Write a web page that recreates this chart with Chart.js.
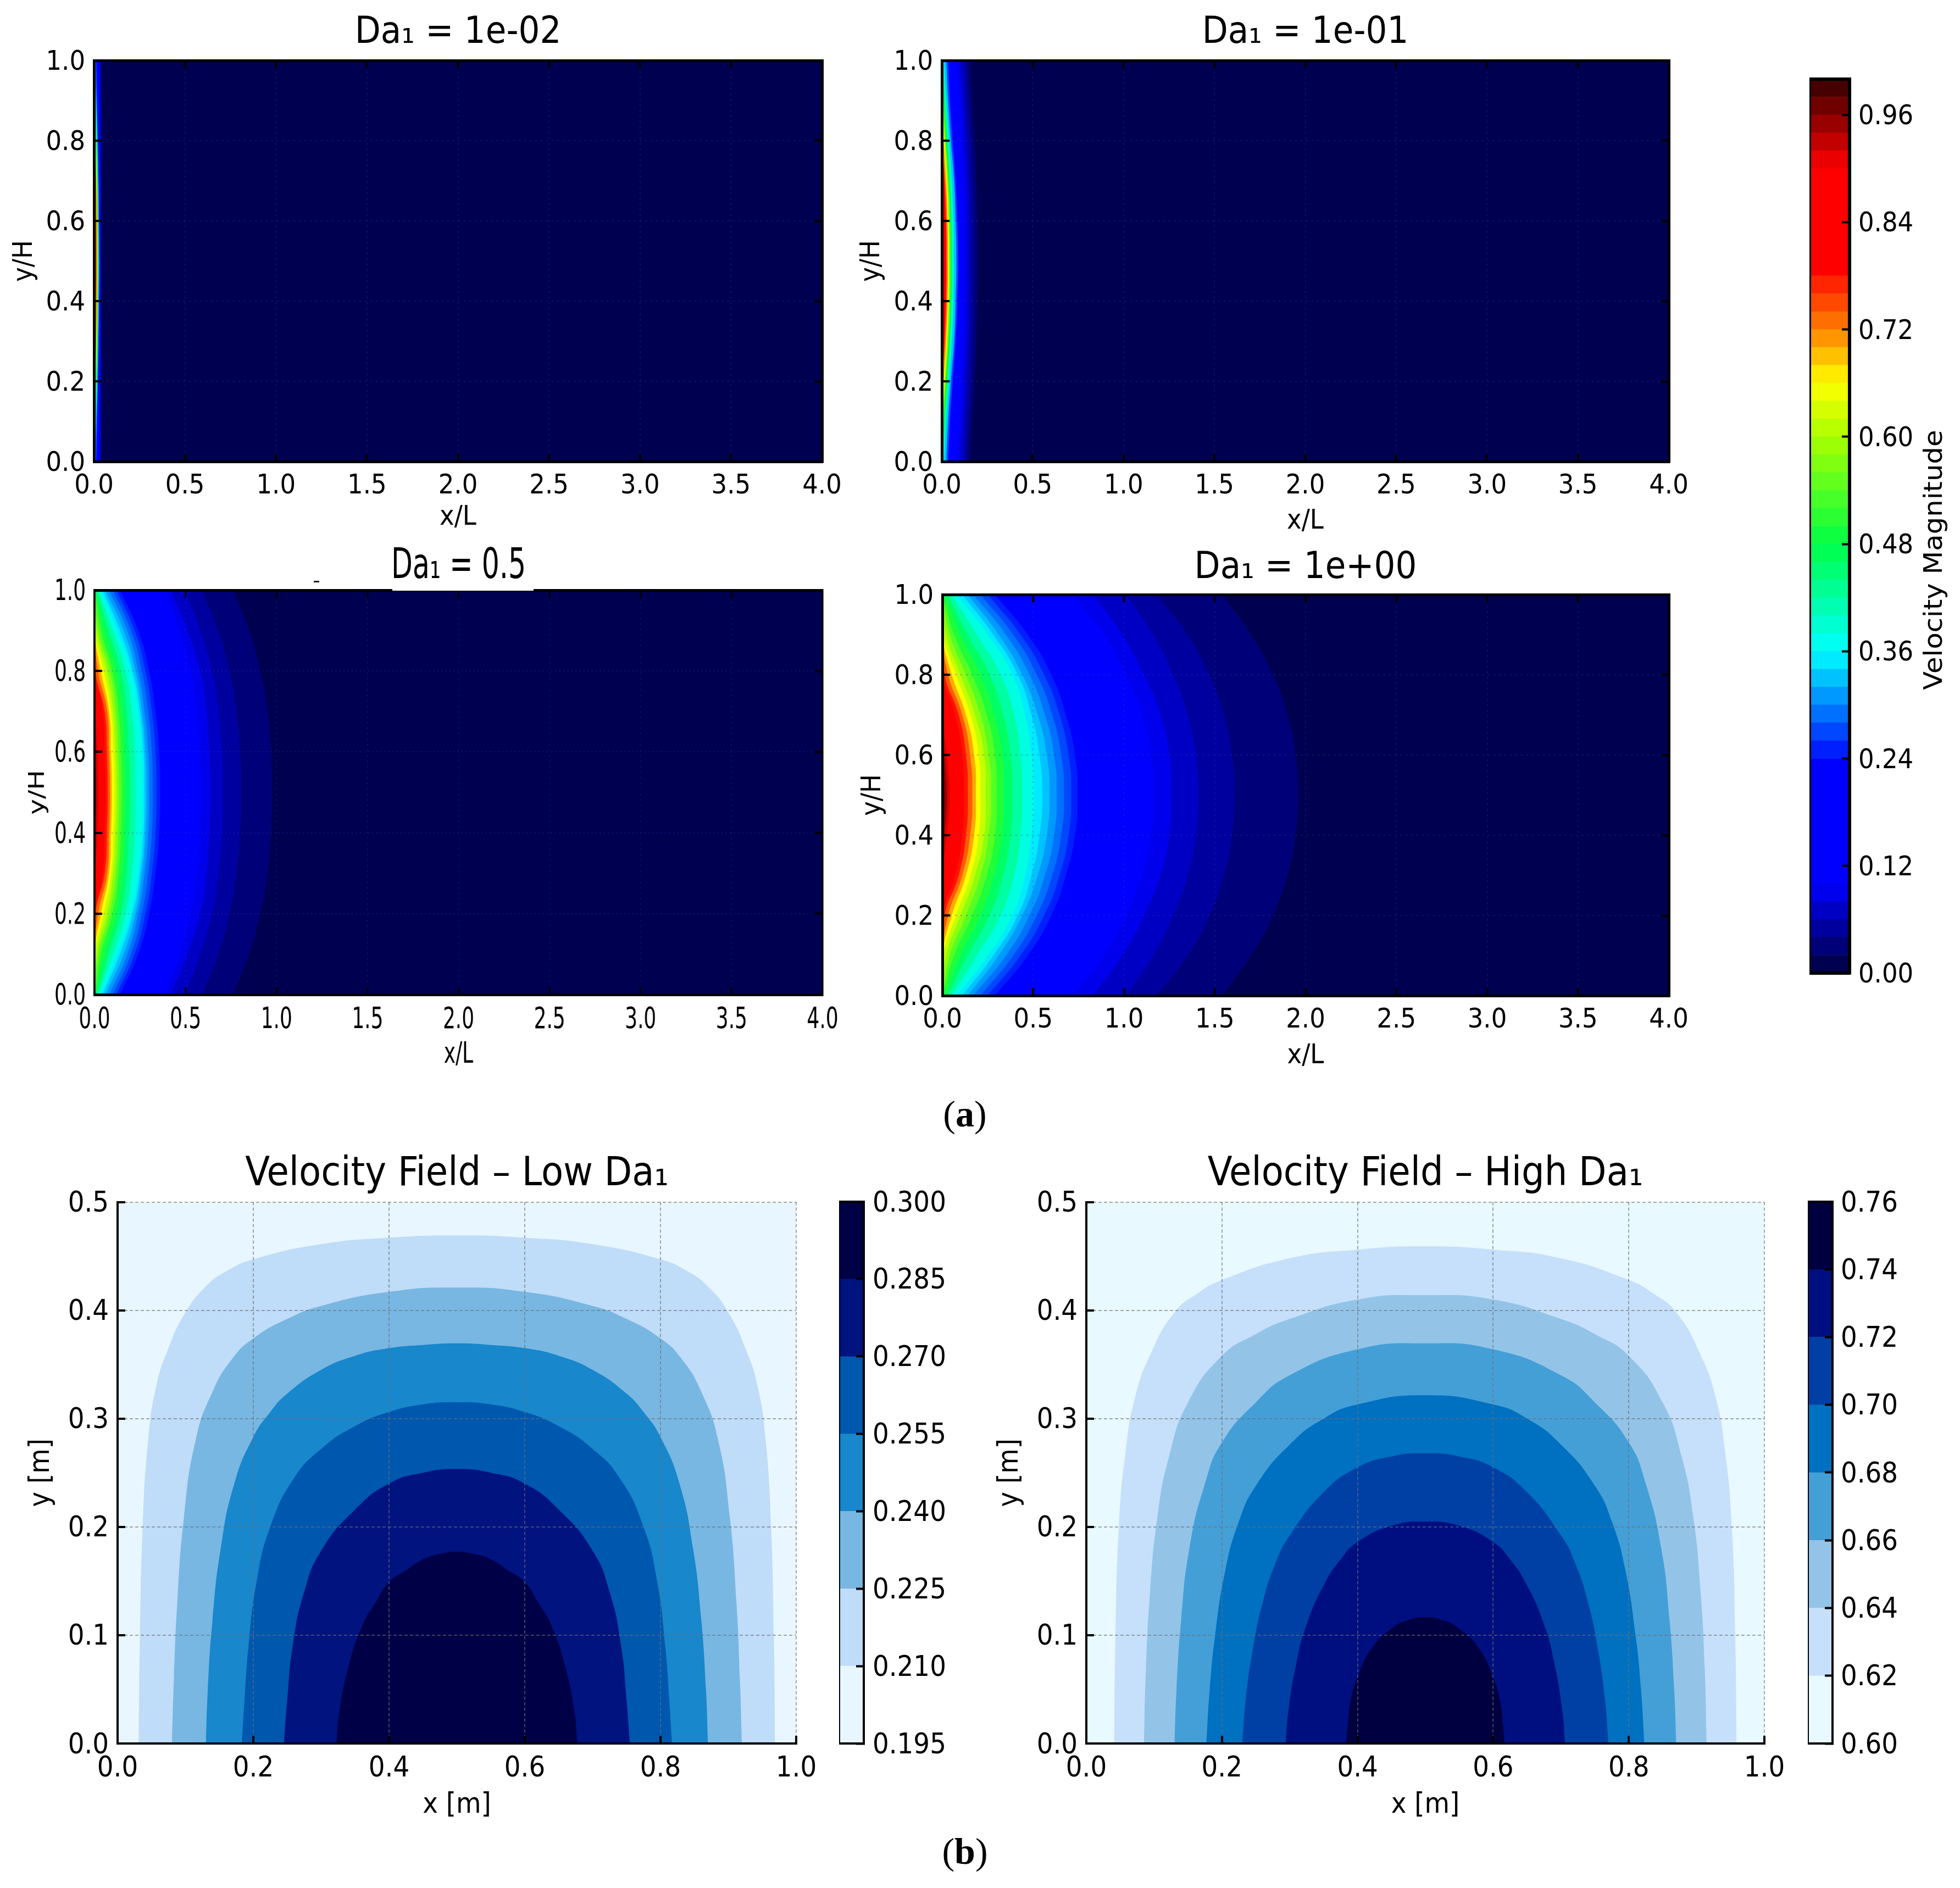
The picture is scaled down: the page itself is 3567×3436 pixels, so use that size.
<!DOCTYPE html>
<html>
<head>
<meta charset="utf-8">
<title>Velocity fields</title>
<script src="https://cdn.jsdelivr.net/npm/chart.js@4"></script>
<style>
  html, body { margin: 0; padding: 0; background: #fff; }
  body { position: relative; width: 3567px; height: 3436px; overflow: hidden; }
  canvas { position: absolute; }
  .tag { position: absolute; font: 68px "Liberation Serif", serif; color: #000; transform: translate(-50%, -50%); }
  .patch { position: absolute; z-index: 5; }
</style>
</head>
<body>
<div class="patch" style="left:714px;top:1066px;width:257px;height:9px;background:#fff"></div>
<div class="patch" style="left:571px;top:1057px;width:10px;height:3px;background:#222"></div>
<div class="tag" style="left:1756px;top:2027px">(<b>a</b>)</div>
<div class="tag" style="left:1756px;top:3369px">(<b>b</b>)</div>
<script>
// tick labels
const channelXTicks = [0, 0.5, 1, 1.5, 2, 2.5, 3, 3.5, 4];
const channelYTicks = [0, 0.2, 0.4, 0.6, 0.8, 1];
const sectionXTicks = [0, 0.2, 0.4, 0.6, 0.8, 1];
const sectionYTicks = [0, 0.1, 0.2, 0.3, 0.4, 0.5];
const magnitudeTicks = [0, 0.12, 0.24, 0.36, 0.48, 0.6, 0.72, 0.84, 0.96];
const lowDaTicks = [0.195, 0.21, 0.225, 0.24, 0.255, 0.27, 0.285, 0.3];
const highDaTicks = [0.6, 0.62, 0.64, 0.66, 0.68, 0.7, 0.72, 0.74, 0.76];

// colorbar band edges for the magnitude scale
const magnitudeEdges = [0, 0.02, 0.04, 0.06, 0.08, 0.1, 0.12, 0.14, 0.16, 0.18, 0.2, 0.22, 0.24, 0.26, 0.28, 0.3, 0.32, 0.34, 0.36, 0.38, 0.4, 0.42, 0.44, 0.46, 0.48, 0.5, 0.52, 0.54, 0.56, 0.58, 0.6, 0.62, 0.64, 0.66, 0.68, 0.7, 0.72, 0.74, 0.76, 0.78, 0.8, 0.82, 0.84, 0.86, 0.88, 0.9, 0.92, 0.94, 0.96, 0.98, 1];

// y/H positions where the contours of the (a) panels were read
const contourY = [0, 0.1, 0.2, 0.3, 0.4, 0.5, 0.6, 0.7, 0.8, 0.9, 1];

// Da1 = 1e-02: velocity levels and x/L of each level at contourY
const da001Levels = [0, 0.02, 0.1, 0.24, 0.36, 0.52, 0.68, 0.8, 0.9];
const da001Contours = [
  [4, 4, 4, 4, 4, 4, 4, 4, 4, 4, 4],
  [0.038, 0.039, 0.04, 0.04, 0.04, 0.04, 0.04, 0.04, 0.04, 0.039, 0.038],
  [0.032, 0.034, 0.035, 0.036, 0.036, 0.036, 0.036, 0.036, 0.035, 0.034, 0.032],
  [0.012, 0.016, 0.022, 0.026, 0.028, 0.03, 0.028, 0.026, 0.022, 0.016, 0.012],
  [0.006, 0.012, 0.018, 0.022, 0.025, 0.026, 0.025, 0.022, 0.018, 0.012, 0.006],
  [0, 0.006, 0.012, 0.017, 0.02, 0.021, 0.02, 0.017, 0.012, 0.006, 0],
  [0, 0, 0.006, 0.012, 0.015, 0.016, 0.015, 0.012, 0.006, 0, 0],
  [0, 0, 0, 0.006, 0.009, 0.011, 0.009, 0.006, 0, 0, 0],
  [0, 0, 0, 0, 0.003, 0.005, 0.003, 0, 0, 0, 0]
];

// Da1 = 1e-01
const da01Levels = [0, 0.02, 0.04, 0.06, 0.08, 0.1, 0.24, 0.3, 0.36, 0.44, 0.52, 0.6, 0.68, 0.76, 0.8, 0.9];
const da01Contours = [
  [4, 4, 4, 4, 4, 4, 4, 4, 4, 4, 4],
  [0.155, 0.165, 0.18, 0.19, 0.195, 0.197, 0.195, 0.19, 0.18, 0.165, 0.155],
  [0.135, 0.15, 0.16, 0.17, 0.175, 0.175, 0.175, 0.17, 0.16, 0.15, 0.135],
  [0.12, 0.13, 0.14, 0.15, 0.155, 0.155, 0.155, 0.15, 0.14, 0.13, 0.12],
  [0.1, 0.115, 0.125, 0.135, 0.14, 0.14, 0.14, 0.135, 0.125, 0.115, 0.1],
  [0.085, 0.1, 0.11, 0.12, 0.125, 0.125, 0.125, 0.12, 0.11, 0.1, 0.085],
  [0.035, 0.045, 0.06, 0.075, 0.085, 0.09, 0.085, 0.075, 0.06, 0.045, 0.035],
  [0.025, 0.035, 0.05, 0.068, 0.076, 0.08, 0.076, 0.068, 0.05, 0.035, 0.025],
  [0.012, 0.025, 0.04, 0.055, 0.064, 0.066, 0.064, 0.055, 0.04, 0.025, 0.012],
  [0.006, 0.016, 0.03, 0.045, 0.053, 0.055, 0.053, 0.045, 0.03, 0.016, 0.006],
  [0, 0.01, 0.022, 0.036, 0.045, 0.047, 0.045, 0.036, 0.022, 0.01, 0],
  [0, 0.005, 0.017, 0.03, 0.038, 0.04, 0.038, 0.03, 0.017, 0.005, 0],
  [0, 0, 0.01, 0.023, 0.031, 0.033, 0.031, 0.023, 0.01, 0, 0],
  [0, 0, 0.003, 0.016, 0.024, 0.026, 0.024, 0.016, 0.003, 0, 0],
  [0, 0, 0, 0.011, 0.019, 0.021, 0.019, 0.011, 0, 0, 0],
  [0, 0, 0, 0, 0.006, 0.008, 0.006, 0, 0, 0, 0]
];

// Da1 = 0.5
const da05Levels = [0, 0.02, 0.04, 0.06, 0.08, 0.1, 0.24, 0.26, 0.28, 0.3, 0.32, 0.34, 0.36, 0.4, 0.44, 0.48, 0.52, 0.56, 0.6, 0.64, 0.68, 0.72, 0.76, 0.8, 0.9, 0.95];
const da05Contours = [
  [4, 4, 4, 4, 4, 4, 4, 4, 4, 4, 4],
  [0.76, 0.85, 0.91, 0.95, 0.97, 0.975, 0.97, 0.95, 0.91, 0.85, 0.76],
  [0.59, 0.68, 0.74, 0.78, 0.8, 0.805, 0.8, 0.78, 0.74, 0.68, 0.59],
  [0.5, 0.58, 0.645, 0.68, 0.7, 0.705, 0.7, 0.68, 0.645, 0.58, 0.5],
  [0.42, 0.51, 0.58, 0.615, 0.63, 0.635, 0.63, 0.615, 0.58, 0.51, 0.42],
  [0.39, 0.47, 0.53, 0.565, 0.58, 0.585, 0.58, 0.565, 0.53, 0.47, 0.39],
  [0.14, 0.24, 0.3, 0.335, 0.355, 0.36, 0.355, 0.335, 0.3, 0.24, 0.14],
  [0.12, 0.22, 0.28, 0.315, 0.335, 0.34, 0.335, 0.315, 0.28, 0.22, 0.12],
  [0.1, 0.2, 0.26, 0.295, 0.315, 0.32, 0.315, 0.295, 0.26, 0.2, 0.1],
  [0.08, 0.18, 0.24, 0.275, 0.295, 0.3, 0.295, 0.275, 0.24, 0.18, 0.08],
  [0.06, 0.16, 0.225, 0.26, 0.28, 0.285, 0.28, 0.26, 0.225, 0.16, 0.06],
  [0.045, 0.14, 0.21, 0.25, 0.27, 0.275, 0.27, 0.25, 0.21, 0.14, 0.045],
  [0.035, 0.125, 0.2, 0.24, 0.26, 0.265, 0.26, 0.24, 0.2, 0.125, 0.035],
  [0.02, 0.1, 0.17, 0.205, 0.222, 0.225, 0.222, 0.205, 0.17, 0.1, 0.02],
  [0.012, 0.078, 0.145, 0.178, 0.19, 0.195, 0.19, 0.178, 0.145, 0.078, 0.012],
  [0.005, 0.055, 0.12, 0.152, 0.165, 0.17, 0.165, 0.152, 0.12, 0.055, 0.005],
  [0, 0.035, 0.098, 0.132, 0.145, 0.15, 0.145, 0.132, 0.098, 0.035, 0],
  [0, 0.02, 0.082, 0.117, 0.13, 0.135, 0.13, 0.117, 0.082, 0.02, 0],
  [0, 0.01, 0.067, 0.102, 0.115, 0.12, 0.115, 0.102, 0.067, 0.01, 0],
  [0, 0, 0.05, 0.09, 0.103, 0.108, 0.103, 0.09, 0.05, 0, 0],
  [0, 0, 0.035, 0.08, 0.09, 0.095, 0.09, 0.08, 0.035, 0, 0],
  [0, 0, 0.02, 0.07, 0.08, 0.085, 0.08, 0.07, 0.02, 0, 0],
  [0, 0, 0.005, 0.055, 0.068, 0.072, 0.068, 0.055, 0.005, 0, 0],
  [0, 0, 0, 0.045, 0.055, 0.06, 0.055, 0.045, 0, 0, 0],
  [0, 0, 0, 0.005, 0.015, 0.02, 0.015, 0.005, 0, 0, 0],
  [0, 0, 0, 0, 0.004, 0.008, 0.004, 0, 0, 0, 0]
];

// Da1 = 1e+00
const da1Levels = [0, 0.02, 0.04, 0.06, 0.08, 0.1, 0.24, 0.26, 0.28, 0.3, 0.32, 0.34, 0.36, 0.4, 0.44, 0.48, 0.52, 0.56, 0.6, 0.64, 0.68, 0.72, 0.76, 0.8, 0.9, 0.94, 0.96];
const da1Contours = [
  [4, 4, 4, 4, 4, 4, 4, 4, 4, 4, 4],
  [1.54, 1.7, 1.82, 1.9, 1.945, 1.96, 1.945, 1.9, 1.82, 1.7, 1.54],
  [1.18, 1.35, 1.47, 1.55, 1.595, 1.61, 1.595, 1.55, 1.47, 1.35, 1.18],
  [1.01, 1.16, 1.27, 1.35, 1.395, 1.41, 1.395, 1.35, 1.27, 1.16, 1.01],
  [0.83, 0.99, 1.11, 1.2, 1.25, 1.26, 1.25, 1.2, 1.11, 0.99, 0.83],
  [0.72, 0.89, 1.01, 1.1, 1.15, 1.165, 1.15, 1.1, 1.01, 0.89, 0.72],
  [0.29, 0.47, 0.6, 0.68, 0.73, 0.745, 0.73, 0.68, 0.6, 0.47, 0.29],
  [0.25, 0.43, 0.56, 0.645, 0.695, 0.71, 0.695, 0.645, 0.56, 0.43, 0.25],
  [0.21, 0.39, 0.52, 0.605, 0.655, 0.67, 0.655, 0.605, 0.52, 0.39, 0.21],
  [0.17, 0.35, 0.48, 0.565, 0.615, 0.63, 0.615, 0.565, 0.48, 0.35, 0.17],
  [0.14, 0.31, 0.44, 0.525, 0.575, 0.59, 0.575, 0.525, 0.44, 0.31, 0.14],
  [0.11, 0.28, 0.415, 0.49, 0.535, 0.55, 0.535, 0.49, 0.415, 0.28, 0.11],
  [0.08, 0.25, 0.385, 0.455, 0.49, 0.505, 0.49, 0.455, 0.385, 0.25, 0.08],
  [0.05, 0.19, 0.32, 0.395, 0.43, 0.44, 0.43, 0.395, 0.32, 0.19, 0.05],
  [0.03, 0.14, 0.26, 0.335, 0.375, 0.385, 0.375, 0.335, 0.26, 0.14, 0.03],
  [0.015, 0.1, 0.21, 0.285, 0.33, 0.34, 0.33, 0.285, 0.21, 0.1, 0.015],
  [0, 0.065, 0.165, 0.245, 0.29, 0.3, 0.29, 0.245, 0.165, 0.065, 0],
  [0, 0.04, 0.13, 0.21, 0.255, 0.27, 0.255, 0.21, 0.13, 0.04, 0],
  [0, 0.02, 0.1, 0.18, 0.23, 0.24, 0.23, 0.18, 0.1, 0.02, 0],
  [0, 0.005, 0.075, 0.155, 0.2, 0.21, 0.2, 0.155, 0.075, 0.005, 0],
  [0, 0, 0.052, 0.13, 0.175, 0.185, 0.175, 0.13, 0.052, 0, 0],
  [0, 0, 0.032, 0.11, 0.153, 0.165, 0.153, 0.11, 0.032, 0, 0],
  [0, 0, 0.012, 0.09, 0.13, 0.14, 0.13, 0.09, 0.012, 0, 0],
  [0, 0, 0, 0.07, 0.11, 0.12, 0.11, 0.07, 0, 0, 0],
  [0, 0, 0, 0, 0.025, 0.04, 0.025, 0, 0, 0, 0],
  [0, 0, 0, 0, 0.012, 0.025, 0.012, 0, 0, 0, 0],
  [0, 0, 0, 0, 0.005, 0.012, 0.005, 0, 0, 0, 0]
];

// Low Da1 section, [x, y] along each contour, outer band first
const lowDaContours = [
  [[0, 0.5], [1, 0.5]],
  [[0.031, 0], [0.033, 0.1], [0.037, 0.2], [0.045, 0.28], [0.057, 0.33], [0.075, 0.365], [0.1, 0.398], [0.13, 0.422], [0.16, 0.436], [0.2, 0.447], [0.3, 0.461], [0.4, 0.467], [0.5, 0.469], [0.6, 0.467], [0.7, 0.461], [0.8, 0.447], [0.84, 0.436], [0.87, 0.422], [0.9, 0.398], [0.925, 0.365], [0.943, 0.33], [0.955, 0.28], [0.963, 0.2], [0.967, 0.1], [0.969, 0]],
  [[0.08, 0], [0.083, 0.06], [0.088, 0.13], [0.098, 0.21], [0.115, 0.28], [0.14, 0.325], [0.17, 0.356], [0.2, 0.374], [0.25, 0.392], [0.3, 0.404], [0.4, 0.417], [0.5, 0.421], [0.6, 0.417], [0.7, 0.404], [0.75, 0.392], [0.8, 0.374], [0.83, 0.356], [0.86, 0.325], [0.885, 0.28], [0.902, 0.21], [0.912, 0.13], [0.917, 0.06], [0.92, 0]],
  [[0.13, 0], [0.133, 0.05], [0.14, 0.115], [0.152, 0.18], [0.172, 0.24], [0.2, 0.283], [0.225, 0.306], [0.25, 0.323], [0.3, 0.345], [0.35, 0.358], [0.4, 0.365], [0.45, 0.368], [0.5, 0.3695], [0.55, 0.368], [0.6, 0.365], [0.65, 0.358], [0.7, 0.345], [0.75, 0.323], [0.775, 0.306], [0.8, 0.283], [0.828, 0.24], [0.848, 0.18], [0.86, 0.115], [0.867, 0.05], [0.87, 0]],
  [[0.183, 0], [0.187, 0.04], [0.193, 0.09], [0.205, 0.15], [0.225, 0.2], [0.26, 0.245], [0.3, 0.272], [0.35, 0.293], [0.4, 0.306], [0.45, 0.313], [0.5, 0.315], [0.55, 0.313], [0.6, 0.306], [0.65, 0.293], [0.7, 0.272], [0.74, 0.245], [0.775, 0.2], [0.795, 0.15], [0.807, 0.09], [0.813, 0.04], [0.817, 0]],
  [[0.245, 0], [0.25, 0.04], [0.258, 0.09], [0.275, 0.14], [0.3, 0.178], [0.35, 0.216], [0.4, 0.24], [0.45, 0.25], [0.5, 0.2534], [0.55, 0.25], [0.6, 0.24], [0.65, 0.216], [0.7, 0.178], [0.725, 0.14], [0.742, 0.09], [0.75, 0.04], [0.755, 0]],
  [[0.3225, 0], [0.327, 0.03], [0.34, 0.07], [0.36, 0.108], [0.38, 0.13], [0.4, 0.149], [0.425, 0.16], [0.45, 0.17], [0.475, 0.175], [0.5, 0.177], [0.525, 0.175], [0.55, 0.17], [0.575, 0.16], [0.6, 0.149], [0.62, 0.13], [0.64, 0.108], [0.66, 0.07], [0.673, 0.03], [0.6775, 0]]
];
const lowDaColors = ['#e8f7ff', '#bfdcf8', '#78b7e2', '#1887cc', '#0057ae', '#00137f', '#000047'];

// High Da1 section
const highDaContours = [
  [[0, 0.5], [1, 0.5]],
  [[0.041, 0], [0.043, 0.1], [0.048, 0.2], [0.058, 0.27], [0.072, 0.32], [0.095, 0.36], [0.13, 0.398], [0.165, 0.416], [0.2, 0.428], [0.3, 0.448], [0.4, 0.456], [0.5, 0.459], [0.6, 0.456], [0.7, 0.448], [0.8, 0.428], [0.835, 0.416], [0.87, 0.398], [0.905, 0.36], [0.928, 0.32], [0.942, 0.27], [0.952, 0.2], [0.957, 0.1], [0.959, 0]],
  [[0.085, 0], [0.088, 0.07], [0.094, 0.14], [0.105, 0.21], [0.122, 0.265], [0.15, 0.315], [0.2, 0.358], [0.25, 0.378], [0.3, 0.392], [0.4, 0.41], [0.5, 0.414], [0.6, 0.41], [0.7, 0.392], [0.75, 0.378], [0.8, 0.358], [0.85, 0.315], [0.878, 0.265], [0.895, 0.21], [0.906, 0.14], [0.912, 0.07], [0.915, 0]],
  [[0.13, 0], [0.133, 0.05], [0.14, 0.115], [0.152, 0.18], [0.175, 0.24], [0.2, 0.278], [0.25, 0.315], [0.3, 0.34], [0.4, 0.364], [0.5, 0.3695], [0.6, 0.364], [0.7, 0.34], [0.75, 0.315], [0.8, 0.278], [0.825, 0.24], [0.848, 0.18], [0.86, 0.115], [0.867, 0.05], [0.87, 0]],
  [[0.177, 0], [0.182, 0.05], [0.19, 0.1], [0.205, 0.16], [0.225, 0.205], [0.25, 0.238], [0.3, 0.276], [0.35, 0.3], [0.4, 0.313], [0.5, 0.3215], [0.6, 0.313], [0.65, 0.3], [0.7, 0.276], [0.75, 0.238], [0.775, 0.205], [0.795, 0.16], [0.81, 0.1], [0.818, 0.05], [0.823, 0]],
  [[0.23, 0], [0.235, 0.04], [0.245, 0.085], [0.26, 0.13], [0.28, 0.168], [0.3, 0.192], [0.35, 0.232], [0.4, 0.255], [0.45, 0.265], [0.5, 0.268], [0.55, 0.265], [0.6, 0.255], [0.65, 0.232], [0.7, 0.192], [0.72, 0.168], [0.74, 0.13], [0.755, 0.085], [0.765, 0.04], [0.77, 0]],
  [[0.294, 0], [0.298, 0.03], [0.31, 0.075], [0.325, 0.11], [0.35, 0.146], [0.375, 0.17], [0.4, 0.186], [0.45, 0.201], [0.5, 0.205], [0.55, 0.201], [0.6, 0.186], [0.625, 0.17], [0.65, 0.146], [0.675, 0.11], [0.69, 0.075], [0.702, 0.03], [0.706, 0]],
  [[0.383, 0], [0.386, 0.02], [0.39, 0.04], [0.4, 0.061], [0.42, 0.087], [0.45, 0.106], [0.475, 0.114], [0.5, 0.1166], [0.525, 0.114], [0.55, 0.106], [0.58, 0.087], [0.6, 0.061], [0.61, 0.04], [0.614, 0.02], [0.617, 0]]
];
const highDaColors = ['#e8f9ff', '#c6e0fb', '#93c4e8', '#449fd7', '#0070c0', '#0040a5', '#000f80', '#000040'];

// colormap of the (a) panels
const jetStops = [0, 0.1, 0.235, 0.36, 0.48, 0.6, 0.66, 0.72, 0.79, 0.9, 1];
const jetRgb = [[0, 0, 62], [0, 0, 255], [0, 0, 255], [0, 255, 255], [0, 255, 70], [170, 255, 0], [255, 255, 0], [255, 128, 0], [255, 0, 0], [255, 0, 0], [50, 0, 0]];

function jetColor(v) {
  let i = 0;
  while (i < jetStops.length - 2 && v > jetStops[i + 1]) i++;
  const t = (v - jetStops[i]) / (jetStops[i + 1] - jetStops[i]);
  const c = jetRgb[i].map((a, k) => Math.round(a + (jetRgb[i + 1][k] - a) * t));
  return `rgb(${c[0]},${c[1]},${c[2]})`;
}

const condensed = '"DejaVu Sans Condensed", "DejaVu Sans", sans-serif';

// makes a canvas with its plot area sitting on the given pixel box
// squash < 1 draws wider and lets CSS shrink it, which narrows the text too
function addCanvas(box, ml, mt, mr, mb, squash) {
  const canvas = document.createElement('canvas');
  const w = ml + box.right - box.left + mr;
  const h = mt + box.bottom - box.top + mb;
  canvas.width = Math.round(w / squash);
  canvas.height = h;
  canvas.style.width = w + 'px';
  canvas.style.height = h + 'px';
  canvas.style.left = (box.left - ml) + 'px';
  canvas.style.top = (box.top - mt) + 'px';
  document.body.appendChild(canvas);
  return canvas;
}

function sized(size, cfg) {
  cfg.afterFit = function (scale) {
    if (scale.isHorizontal()) { scale.height = size; scale.paddingLeft = 0; scale.paddingRight = 0; }
    else { scale.width = size; scale.paddingTop = 0; scale.paddingBottom = 0; }
  };
  return cfg;
}

function withTicks(cfg, values, digits) {
  cfg.afterBuildTicks = s => { s.ticks = values.map(v => ({ value: v })); };
  cfg.ticks.callback = v => v.toFixed(digits);
  cfg.ticks.autoSkip = false;
  cfg.ticks.maxRotation = 0;
  cfg.ticks.minRotation = 0;
  return cfg;
}

function drawField(p) {
  const s = p.squash || 1;
  const ml = 170, mb = 150, mr = 60;
  const mt = p.box.top - (p.titleY - p.titleSize / 2 - 4);
  const canvas = addCanvas(p.box, ml, mt, mr, mb, s);
  const border = { display: true, color: '#000', width: p.borderWidth, z: 2, dash: p.gridDash };
  const grid = {
    color: p.gridColor, lineWidth: 2, z: 1,
    tickColor: '#000', tickWidth: 4, tickLength: -14, tickBorderDash: []
  };
  const yGrid = Object.assign({}, grid, { tickLength: -14 / s });
  const tickFont = { family: p.font, size: p.tickSize, lineHeight: 1 };
  const axisFont = { family: p.font, size: p.axisSize, lineHeight: 1 };
  const scales = {
    x: sized(mb, withTicks({
      type: 'linear', position: 'bottom', min: p.xTicks[0], max: p.xTicks[p.xTicks.length - 1],
      border, grid,
      ticks: { color: '#000', font: tickFont, padding: 34 },
      title: { display: true, text: p.xTitle, color: '#000', font: axisFont,
        padding: { top: 0, bottom: p.box.bottom + mb - p.xTitleY - p.axisSize / 2 } }
    }, p.xTicks, 1)),
    y: sized(ml / s, withTicks({
      type: 'linear', position: 'left', min: p.yTicks[0], max: p.yTicks[p.yTicks.length - 1],
      border, grid: yGrid,
      ticks: { color: '#000', font: tickFont, padding: 30 / s, labelOffset: 4 },
      title: { display: true, text: p.yTitle, color: '#000', font: axisFont,
        padding: { top: (p.yTitleX - (p.box.left - ml)) / s - p.axisSize / 2, bottom: 0 } }
    }, p.yTicks, 1))
  };
  if (p.boxed) {
    const edgeGrid = { drawOnChartArea: false, tickColor: '#000', tickWidth: 4, tickLength: -14, z: 1 };
    const edgeGridY = Object.assign({}, edgeGrid, { tickLength: -14 / s });
    scales.xTop = sized(0, withTicks({
      type: 'linear', position: 'top', min: p.xTicks[0], max: p.xTicks[p.xTicks.length - 1],
      border, grid: edgeGrid, ticks: { display: false }
    }, p.xTicks, 1));
    scales.yRight = sized(0, withTicks({
      type: 'linear', position: 'right', min: p.yTicks[0], max: p.yTicks[p.yTicks.length - 1],
      border, grid: edgeGridY, ticks: { display: false }
    }, p.yTicks, 1));
  }
  p.datasets.forEach(d => { d.xAxisID = 'x'; d.yAxisID = 'y'; });
  new Chart(canvas, {
    type: 'line',
    data: { datasets: p.datasets },
    options: {
      responsive: false,
      animation: false,
      devicePixelRatio: 1,
      indexAxis: p.indexAxis,
      layout: { padding: { right: mr / s } },
      elements: { point: { radius: 0 }, line: { borderWidth: 0 } },
      plugins: {
        legend: { display: false },
        tooltip: { enabled: false },
        title: {
          display: true, text: p.title, color: '#000', fullSize: false,
          font: { family: p.font, size: p.titleSize, weight: 'normal', lineHeight: 1 },
          padding: { top: 4, bottom: mt - 4 - p.titleSize }
        }
      },
      scales
    }
  });
}

// contours read along y (index axis y), highest level first so it lands on top
function channelDatasets(levels, contours) {
  const sets = contours.map((row, i) => {
    const next = i + 1 < levels.length ? levels[i + 1] : 1;
    return {
      label: 'level ' + levels[i],
      data: row.map((x, k) => ({ x, y: contourY[k] })),
      backgroundColor: jetColor((levels[i] + next) / 2),
      fill: 'origin',
      tension: 0.5
    };
  });
  return sets.reverse();
}

function sectionDatasets(contours, colors) {
  const sets = contours.map((row, i) => ({
    label: 'band ' + i,
    data: row.map(pt => ({ x: pt[0], y: pt[1] })),
    backgroundColor: colors[i],
    fill: 'origin',
    tension: 0.5
  }));
  return sets.reverse();
}

function channelPanel(box, title, levels, contours, extra) {
  drawField(Object.assign({
    box, title, titleSize: 68, tickSize: 50, axisSize: 50, font: condensed,
    xTitle: 'x/L', yTitle: 'y/H', xTicks: channelXTicks, yTicks: channelYTicks,
    gridColor: 'rgba(50,50,170,0.35)', gridDash: [3, 7], borderWidth: 5, boxed: true,
    indexAxis: 'y', datasets: channelDatasets(levels, contours)
  }, extra));
}

function sectionPanel(box, title, contours, colors, extra) {
  drawField(Object.assign({
    box, title, titleSize: 73, tickSize: 52, axisSize: 52, font: condensed,
    xTitle: 'x [m]', yTitle: 'y [m]', xTicks: sectionXTicks, yTicks: sectionYTicks,
    gridColor: 'rgba(110,110,110,0.6)', gridDash: [6, 4], borderWidth: 4, boxed: false,
    indexAxis: 'x', datasets: sectionDatasets(contours, colors), titleY: 2138, xTitleY: 3285
  }, extra));
}

function drawColorbar(box, edges, colors, ticks, digits, fontSize, gap, width, afterDraw) {
  const canvas = addCanvas(box, 0, 40, 230, 40, 1);
  const datasets = colors.map((c, i) => ({
    data: [[edges[i], edges[i + 1]]],
    backgroundColor: c,
    xAxisID: 'x', yAxisID: 'y',
    grouped: false, barPercentage: 1, categoryPercentage: 1
  }));
  const border = { display: true, color: '#000', width, z: 2 };
  const noTicks = { display: false };
  new Chart(canvas, {
    type: 'bar',
    data: { labels: [''], datasets },
    options: {
      responsive: false,
      animation: false,
      devicePixelRatio: 1,
      layout: { padding: { top: 40, bottom: 40, right: 0 } },
      plugins: { legend: { display: false }, tooltip: { enabled: false } },
      scales: {
        x: sized(0, { type: 'category', position: 'bottom', border, grid: { display: false }, ticks: noTicks }),
        xTop: sized(0, { type: 'linear', position: 'top', min: 0, max: 1, border, grid: { display: false }, ticks: noTicks }),
        yLeft: sized(0, { type: 'linear', position: 'left', min: 0, max: 1, border, grid: { display: false }, ticks: noTicks }),
        y: sized(230, withTicks({
          type: 'linear', position: 'right', min: edges[0], max: edges[edges.length - 1], border,
          grid: { drawOnChartArea: false, tickColor: '#000', tickWidth: 4, tickLength: -14, z: 1 },
          ticks: { color: '#000', font: { family: condensed, size: fontSize, lineHeight: 1 }, padding: gap + 14, labelOffset: 4 }
        }, ticks, digits))
      }
    },
    plugins: afterDraw ? [afterDraw] : []
  });
}

// "Velocity Magnitude" reads bottom to top on the right of the bar
const magnitudeLabel = {
  id: 'magnitudeLabel',
  afterDraw(chart) {
    const ctx = chart.ctx;
    ctx.save();
    ctx.translate(chart.chartArea.right + 156, 1019 - 144 + 40);
    ctx.rotate(-Math.PI / 2);
    ctx.scale(1.2, 1);
    ctx.font = '46px ' + condensed;
    ctx.fillStyle = '#000';
    ctx.textAlign = 'center';
    ctx.textBaseline = 'middle';
    ctx.fillText('Velocity Magnitude', 0, 0);
    ctx.restore();
  }
};

channelPanel({ left: 171, top: 110, right: 1496, bottom: 840 }, 'Da\u2081 = 1e-02', da001Levels, da001Contours,
  { titleY: 60, xTitleY: 942, yTitleX: 45 });
channelPanel({ left: 1714, top: 110, right: 3037, bottom: 840 }, 'Da\u2081 = 1e-01', da01Levels, da01Contours,
  { titleY: 60, xTitleY: 949, yTitleX: 1587 });
channelPanel({ left: 172, top: 1074, right: 1497, bottom: 1810 }, 'Da\u2081 = 0.5', da05Levels, da05Contours,
  { titleY: 1032, xTitleY: 1920, yTitleX: 69, squash: 0.74, tickSize: 54, axisSize: 54, titleSize: 76 });
channelPanel({ left: 1715, top: 1082, right: 3037, bottom: 1812 }, 'Da\u2081 = 1e+00', da1Levels, da1Contours,
  { titleY: 1034, xTitleY: 1922, yTitleX: 1589 });

sectionPanel({ left: 214, top: 2187, right: 1449, bottom: 3173 }, 'Velocity Field \u2013 Low Da\u2081', lowDaContours, lowDaColors,
  { yTitleX: 75 });
sectionPanel({ left: 1977, top: 2187, right: 3211, bottom: 3173 }, 'Velocity Field \u2013 High Da\u2081', highDaContours, highDaColors,
  { yTitleX: 1838 });

drawColorbar({ left: 3293, top: 144, right: 3366, bottom: 1771 }, magnitudeEdges,
  magnitudeEdges.slice(1).map((e, i) => jetColor((e + magnitudeEdges[i]) / 2)), magnitudeTicks, 2, 50, 16, 6, magnitudeLabel);
drawColorbar({ left: 1527, top: 2187, right: 1572, bottom: 3173 }, lowDaTicks, lowDaColors, lowDaTicks, 3, 52, 16, 4);
drawColorbar({ left: 3290, top: 2187, right: 3335, bottom: 3173 }, highDaTicks, highDaColors, highDaTicks, 2, 52, 15, 4);
</script>
</body>
</html>
